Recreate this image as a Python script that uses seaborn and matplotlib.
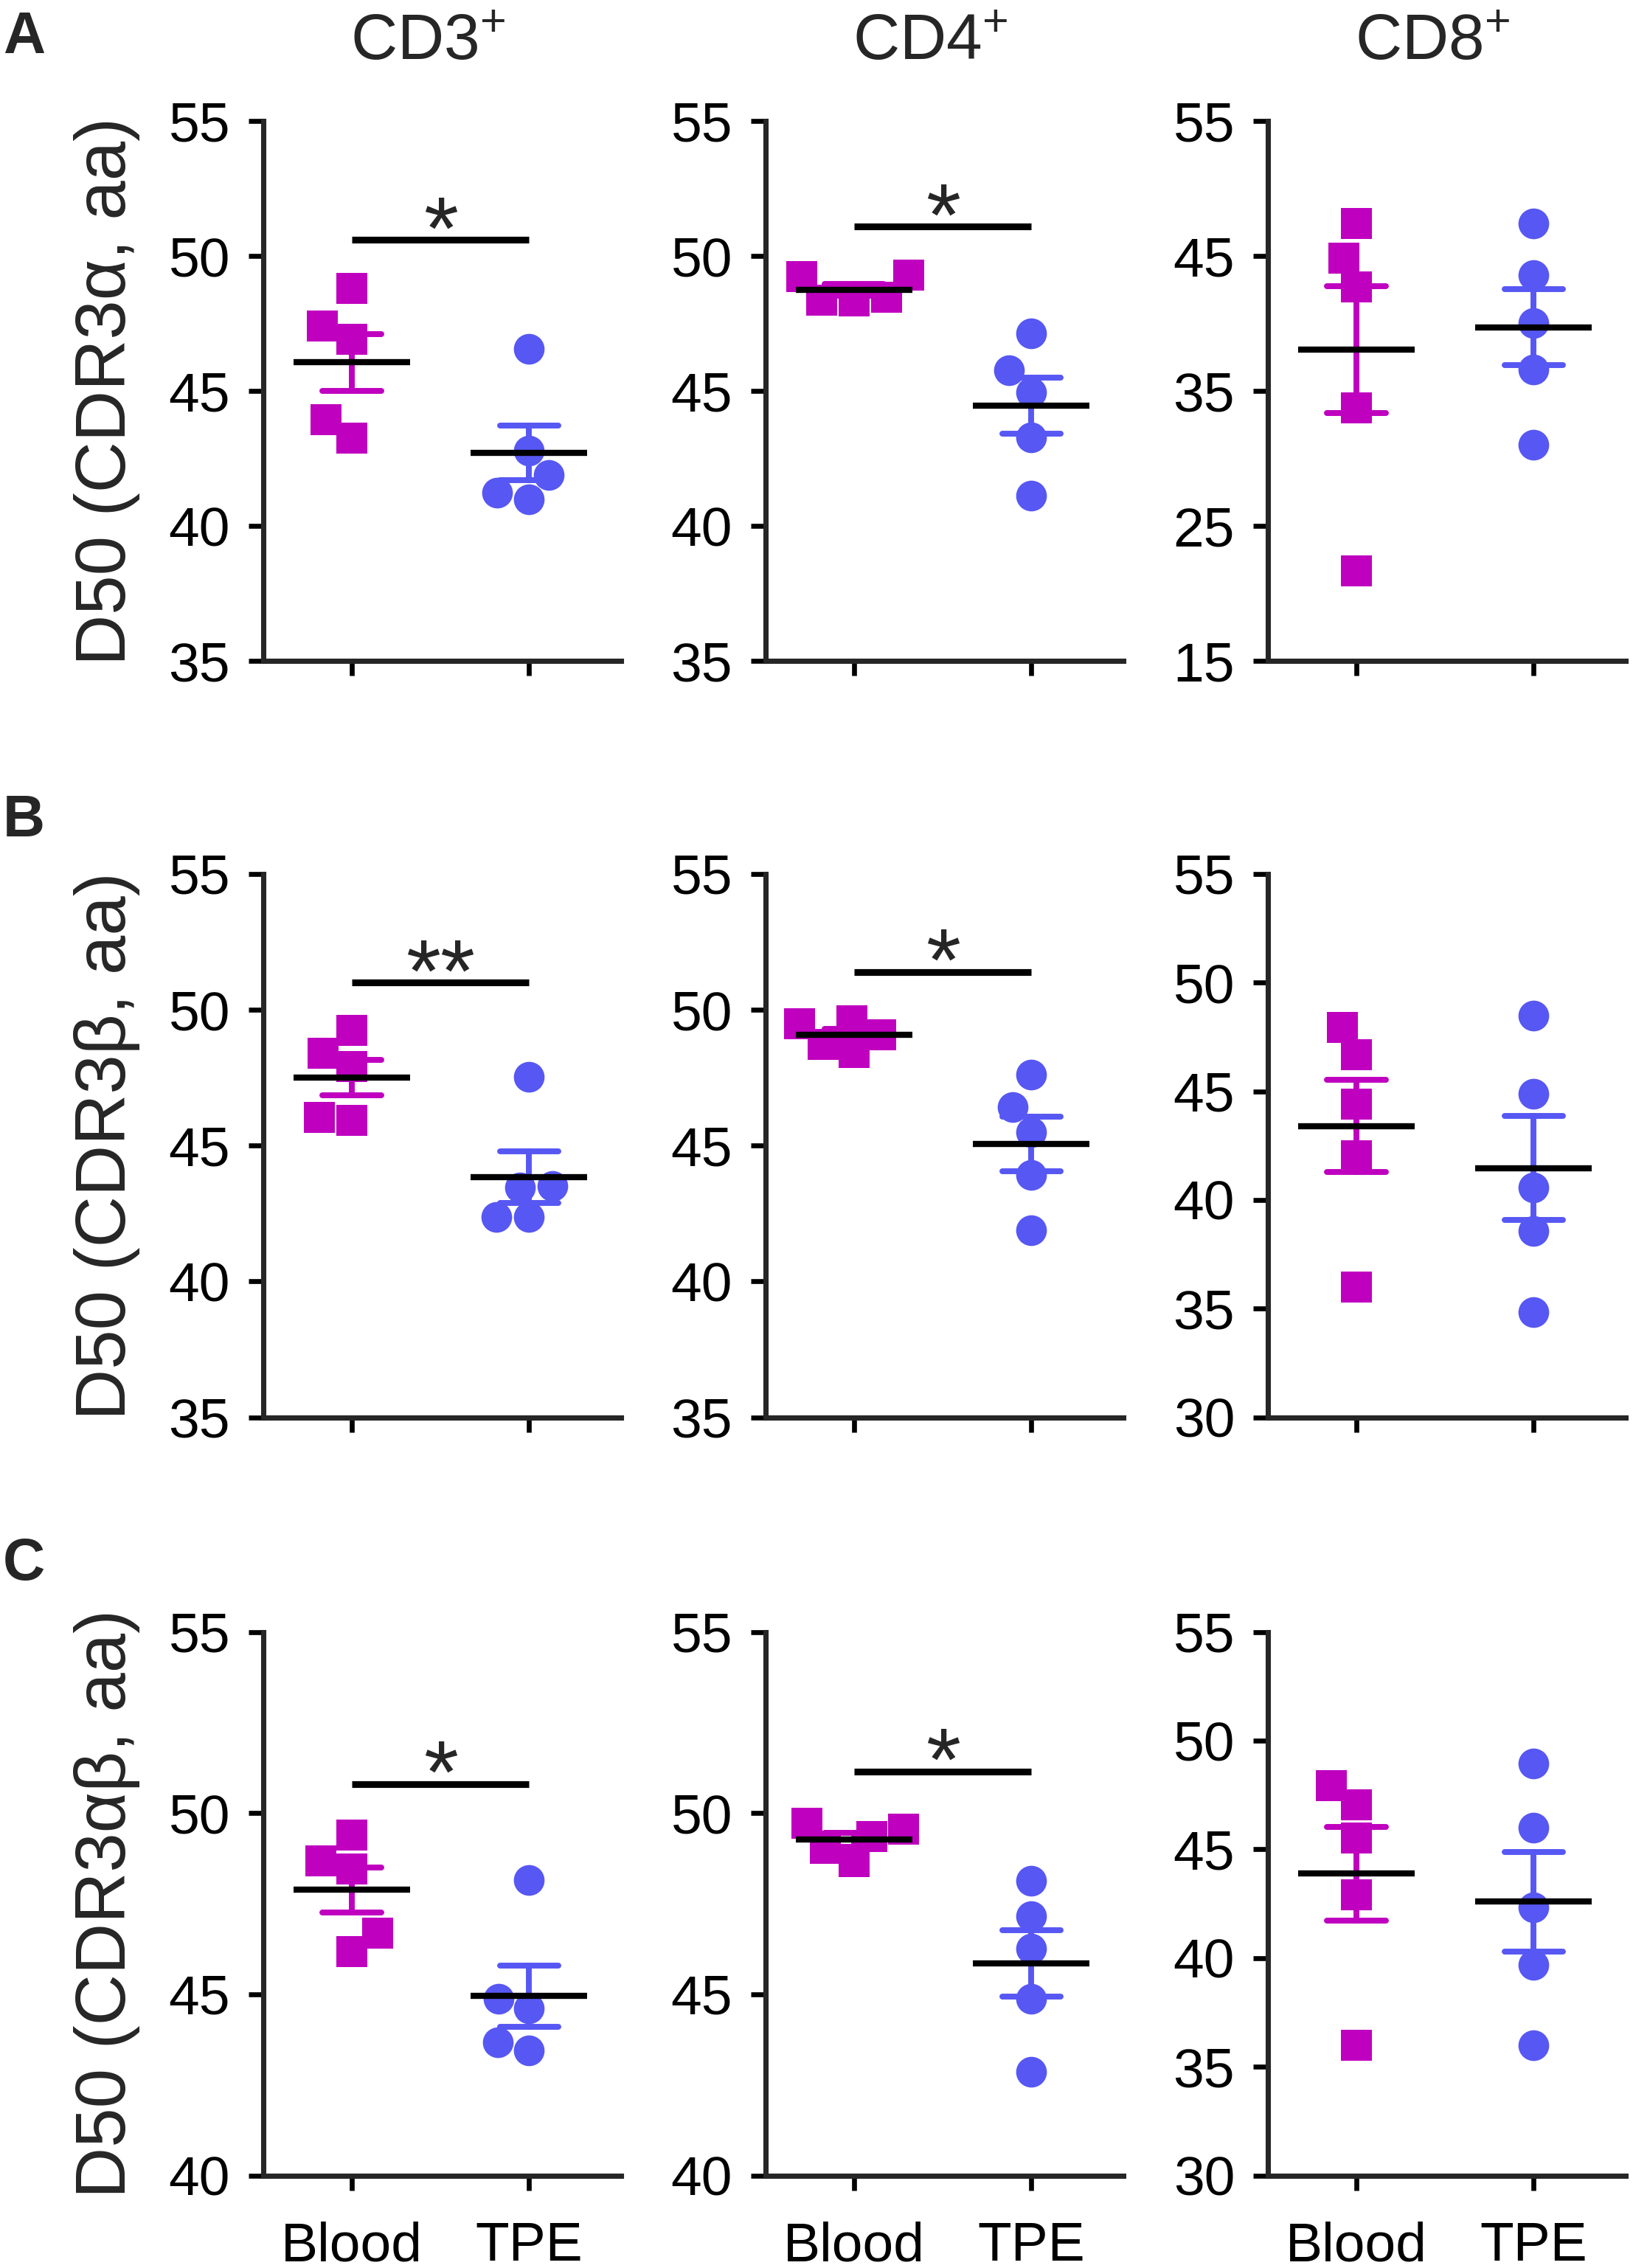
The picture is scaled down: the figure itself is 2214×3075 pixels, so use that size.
import numpy as np
import pandas as pd
import matplotlib
matplotlib.use("Agg")
import matplotlib.pyplot as plt
import seaborn as sns

# ---------------- data ----------------
groups = ["Blood", "TPE"]
col_titles = ["CD3$^{+}$", "CD4$^{+}$", "CD8$^{+}$"]
row_letters = ["A", "B", "C"]
row_ylabels = ["D50 (CDR3α, aa)", "D50 (CDR3β, aa)", "D50 (CDR3αβ, aa)"]

# Row A: CDR3 alpha
a_cd3_blood = [48.81, 47.40, 46.92, 43.93, 43.26]
a_cd3_tpe = [46.57, 42.80, 41.90, 41.24, 41.00]
a_cd4_blood = [49.29, 49.25, 48.47, 48.37, 48.34]
a_cd4_tpe = [47.13, 45.77, 44.95, 43.28, 41.12]
a_cd8_blood = [47.45, 44.83, 42.74, 33.73, 21.66]
a_cd8_tpe = [47.45, 43.58, 40.02, 36.61, 31.03]

# Row B: CDR3 beta
b_cd3_blood = [49.25, 48.39, 47.90, 46.03, 45.94]
b_cd3_tpe = [47.52, 43.50, 43.45, 42.36, 42.36]
b_cd4_blood = [49.59, 49.50, 49.08, 48.74, 48.43]
b_cd4_tpe = [47.62, 46.42, 45.50, 43.91, 41.88]
b_cd8_blood = [47.94, 46.67, 44.42, 42.02, 35.98]
b_cd8_tpe = [48.47, 44.90, 40.58, 38.57, 34.83]

# Row C: CDR3 alpha-beta
c_cd3_blood = [49.39, 48.69, 48.46, 46.68, 46.18]
c_cd3_tpe = [48.16, 44.88, 44.60, 43.67, 43.45]
c_cd4_blood = [49.72, 49.55, 49.36, 49.03, 48.65]
c_cd4_tpe = [48.13, 47.15, 46.26, 44.87, 42.86]
c_cd8_blood = [47.93, 47.05, 45.51, 42.91, 35.98]
c_cd8_tpe = [48.95, 46.00, 42.33, 39.70, 35.98]

# axis ranges / ticks per panel (rows A, B, C ; columns CD3, CD4, CD8)
y_limits = [[(35, 55), (35, 55), (15, 55)],
            [(35, 55), (35, 55), (30, 55)],
            [(40, 55), (40, 55), (30, 55)]]
y_ticks = [[[35, 40, 45, 50, 55], [35, 40, 45, 50, 55], [15, 25, 35, 45, 55]],
           [[35, 40, 45, 50, 55], [35, 40, 45, 50, 55], [30, 35, 40, 45, 50, 55]],
           [[40, 45, 50, 55], [40, 45, 50, 55], [30, 35, 40, 45, 50, 55]]]

# significance bars: (row, col, bar height, label)
sig_rows = [0, 0, 1, 1, 2, 2]
sig_cols = [0, 1, 0, 1, 0, 1]
sig_heights = [50.6, 51.1, 51.0, 51.4, 50.8, 51.15]
sig_labels = ["*", "*", "**", "*", "*", "*"]

panel_values = [
    [(a_cd3_blood, a_cd3_tpe), (a_cd4_blood, a_cd4_tpe), (a_cd8_blood, a_cd8_tpe)],
    [(b_cd3_blood, b_cd3_tpe), (b_cd4_blood, b_cd4_tpe), (b_cd8_blood, b_cd8_tpe)],
    [(c_cd3_blood, c_cd3_tpe), (c_cd4_blood, c_cd4_tpe), (c_cd8_blood, c_cd8_tpe)],
]

# ---------------- style ----------------
MAG = "#BF00BF"
BLUE = "#5757F3"
colors = {"Blood": MAG, "TPE": BLUE}
markers = {"Blood": "s", "TPE": "o"}

sns.set_theme(style="ticks")
plt.rcParams["font.family"] = ["Liberation Sans", "DejaVu Sans"]
plt.rcParams["mathtext.fontset"] = "custom"
plt.rcParams["mathtext.rm"] = "Liberation Sans"
plt.rcParams["mathtext.default"] = "regular"
plt.rcParams["axes.linewidth"] = 1.7

W, H = 2214, 3075
DPI = 300
fig = plt.figure(figsize=(W / DPI, H / DPI), dpi=DPI)

col_left_px = [357, 1038, 1719]
ax_w_px = 485
row_top_px = [164.5, 1185, 2212.5]
row_h_px = [731.5, 736.5, 737]
letter_top_px = [14, 1076, 2084]

axes = [[None] * 3 for _ in range(3)]
for r in range(3):
    for c in range(3):
        left = col_left_px[c] / W
        bottom = 1 - (row_top_px[r] + row_h_px[r]) / H
        ax = fig.add_axes([left, bottom, ax_w_px / W, row_h_px[r] / H])
        axes[r][c] = ax

        blood, tpe = panel_values[r][c]
        df = pd.DataFrame({
            "group": ["Blood"] * len(blood) + ["TPE"] * len(tpe),
            "value": list(blood) + list(tpe),
        })

        for g in groups:
            sub = df[df["group"] == g]
            sns.swarmplot(data=sub, x="group", y="value", order=groups,
                          marker=markers[g], color=colors[g], size=10,
                          linewidth=0, zorder=2, ax=ax)
            sns.pointplot(data=sub, x="group", y="value", order=groups,
                          color=colors[g], errorbar="se", capsize=0.33,
                          markers="none", linestyles="none",
                          err_kws={"linewidth": 1.9, "zorder": 3}, ax=ax)
        sns.pointplot(data=df, x="group", y="value", order=groups,
                      color="black", errorbar=None, markers="_",
                      linestyles="none", markersize=38, markeredgewidth=2.0,
                      zorder=4, ax=ax)

        ax.set_xlim(-0.5, 1.52)
        ax.set_ylim(*y_limits[r][c])
        ax.set_yticks(y_ticks[r][c])
        ax.set_xticks([0, 1])
        ax.set_xlabel("")
        ax.set_ylabel("")
        sns.despine(ax=ax)
        ax.tick_params(axis="both", direction="out", length=4.8, width=1.6,
                       labelsize=18, pad=6, colors="black")
        if r == 2:
            ax.set_xticklabels(groups)
            ax.tick_params(axis="x", pad=10)
        else:
            ax.tick_params(axis="x", labelbottom=False)

        if r == 0:
            ax.set_title(col_titles[c], fontsize=21, x=0.46, pad=20)
        if c == 0:
            ax.set_ylabel(row_ylabels[r], fontsize=23)
            ax.yaxis.set_label_coords(-0.345, 0.5)

    fig.text(4 / W, 1 - letter_top_px[r] / H, row_letters[r], fontsize=19,
             fontweight="bold", ha="left", va="top")

for r, c, h, lab in zip(sig_rows, sig_cols, sig_heights, sig_labels):
    ax = axes[r][c]
    ax.plot([0, 1], [h, h], color="black", lw=2.2, solid_capstyle="butt",
            zorder=5)
    ax.annotate(lab, xy=(0.5, h), xytext=(0, -6), textcoords="offset points",
                ha="center", va="baseline", fontsize=29, zorder=5)

fig.savefig("out.png", dpi=DPI, facecolor="white")
